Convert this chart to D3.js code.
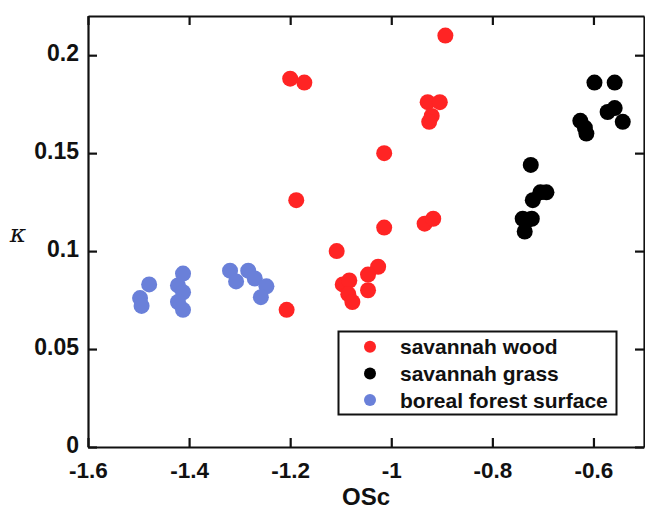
<!DOCTYPE html>
<html>
<head>
<meta charset="utf-8">
<script src="https://cdn.jsdelivr.net/npm/d3@7"></script>
<style>
  html, body { margin: 0; padding: 0; background: #fff; }
  svg { display: block; font-family: "Liberation Sans", Arial, sans-serif; }
</style>
</head>
<body>
<svg id="chart" width="645" height="510"></svg>
<script>
// OSc vs kappa for three fuel types
const seriesNames = ["savannah wood", "savannah grass", "boreal forest surface"];
const seriesColors = ["#ff2424", "#000000", "#6a80d9"];

const woodOSc = [-1.200, -1.172, -1.188, -0.893, -0.928, -0.904, -0.920, -0.925, -1.014, -1.014,
                 -0.934, -0.917, -1.108, -1.207, -1.096, -1.083, -1.085, -1.077, -1.026, -1.046, -1.046];
const woodKappa = [0.188, 0.186, 0.126, 0.210, 0.176, 0.176, 0.169, 0.166, 0.150, 0.112,
                   0.114, 0.1165, 0.100, 0.070, 0.083, 0.085, 0.078, 0.074, 0.092, 0.088, 0.080];

const grassOSc = [-0.724, -0.720, -0.705, -0.693, -0.740, -0.722, -0.736, -0.730,
                  -0.598, -0.558, -0.572, -0.558, -0.542, -0.626, -0.614, -0.617];
const grassKappa = [0.144, 0.126, 0.130, 0.130, 0.1165, 0.1165, 0.110, 0.116,
                    0.186, 0.186, 0.171, 0.173, 0.166, 0.1665, 0.160, 0.163];

const borealOSc = [-1.479, -1.497, -1.494, -1.412, -1.422, -1.412, -1.422, -1.412,
                   -1.319, -1.307, -1.283, -1.270, -1.247, -1.258];
const borealKappa = [0.083, 0.076, 0.072, 0.0885, 0.0825, 0.079, 0.074, 0.070,
                     0.090, 0.0845, 0.090, 0.086, 0.082, 0.0765];

const xTicks = [-1.6, -1.4, -1.2, -1.0, -0.8, -0.6];
const yTicks = [0, 0.05, 0.1, 0.15, 0.2];

const series = [
  { name: seriesNames[0], color: seriesColors[0], x: woodOSc, y: woodKappa },
  { name: seriesNames[1], color: seriesColors[1], x: grassOSc, y: grassKappa },
  { name: seriesNames[2], color: seriesColors[2], x: borealOSc, y: borealKappa }
];

const svg = d3.select("#chart");
const plotLeft = 88, plotRight = 644, plotTop = 16, plotBottom = 447;

const x = d3.scaleLinear().domain([-1.6, -0.5]).range([plotLeft, plotRight]);
const y = d3.scaleLinear().domain([0, 0.22]).range([plotBottom, plotTop]);

const fmt = d => (d === 0 ? "0" : String(+d.toFixed(2)));

// points
series.forEach(s => {
  svg.append("g")
    .selectAll("circle")
    .data(s.x.map((v, i) => [v, s.y[i]]))
    .join("circle")
    .attr("cx", d => x(d[0]))
    .attr("cy", d => y(d[1]))
    .attr("r", 8)
    .attr("fill", s.color);
});

// axes: ticks point inward, box closed on all sides
const tickLen = 9;
const axisStyle = size => g => {
  g.select(".domain").attr("stroke", "#111").attr("stroke-width", 2.2);
  g.selectAll(".tick line").attr("stroke", "#111").attr("stroke-width", 2.2);
  g.selectAll(".tick text")
    .attr("fill", "#111")
    .attr("font-size", size)
    .attr("font-weight", "bold");
};

svg.append("g")
  .attr("transform", `translate(0,${plotBottom})`)
  .call(d3.axisBottom(x).tickValues(xTicks).tickFormat(fmt).tickSizeInner(-tickLen).tickSizeOuter(0).tickPadding(15))
  .call(axisStyle("22.5px"));

svg.append("g")
  .attr("transform", `translate(0,${plotTop})`)
  .call(d3.axisTop(x).tickValues(xTicks).tickFormat("").tickSizeInner(-tickLen).tickSizeOuter(0))
  .call(axisStyle("22.5px"));

svg.append("g")
  .attr("transform", `translate(${plotLeft},0)`)
  .call(d3.axisLeft(y).tickValues(yTicks).tickFormat(fmt).tickSizeInner(-tickLen).tickSizeOuter(0).tickPadding(9))
  .call(axisStyle("23px"))
  .selectAll(".tick text").attr("dy", "0.25em");

svg.append("g")
  .attr("transform", `translate(${plotRight},0)`)
  .call(d3.axisRight(y).tickValues(yTicks).tickFormat("").tickSizeInner(-tickLen).tickSizeOuter(0))
  .call(axisStyle("23px"));

// axis titles
svg.append("text")
  .attr("x", (plotLeft + plotRight) / 2)
  .attr("y", 504.8)
  .attr("text-anchor", "middle")
  .attr("font-size", "24px")
  .attr("font-weight", "bold")
  .attr("fill", "#111")
  .text("OSc");

svg.append("text")
  .attr("x", 18)
  .attr("y", 242)
  .attr("text-anchor", "middle")
  .attr("font-family", "'DejaVu Serif', serif")
  .attr("font-style", "italic")
  .attr("font-size", "25px")
  .attr("fill", "#111")
  .text("κ");

// legend
const legend = svg.append("g");
legend.append("rect")
  .attr("x", 338.5).attr("y", 331.5)
  .attr("width", 278).attr("height", 83)
  .attr("fill", "#fff")
  .attr("stroke", "#111")
  .attr("stroke-width", 2);

series.forEach((s, i) => {
  const ry = 346.7 + i * 26.7;
  legend.append("circle")
    .attr("cx", 370).attr("cy", ry).attr("r", 6)
    .attr("fill", s.color);
  legend.append("text")
    .attr("x", 400).attr("y", ry)
    .attr("dy", "0.36em")
    .attr("font-size", "21px")
    .attr("font-weight", "bold")
    .attr("fill", "#111")
    .text(s.name);
});
</script>
</body>
</html>
